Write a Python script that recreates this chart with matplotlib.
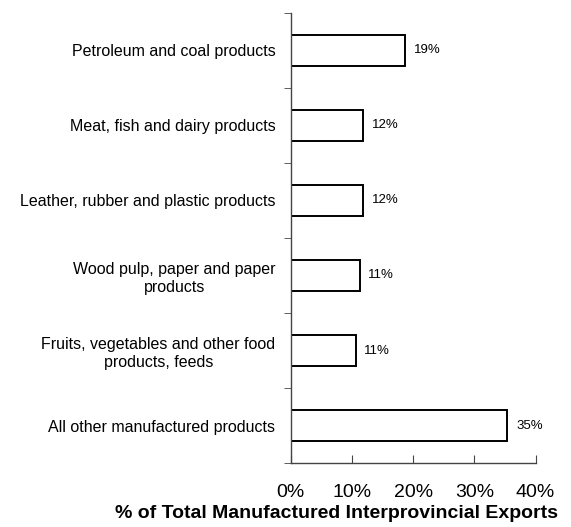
import matplotlib.pyplot as plt
import numpy as np

plt.rcParams['font.family'] = ['Liberation Sans', 'DejaVu Sans']

categories = [
    "Petroleum and coal products",
    "Meat, fish and dairy products",
    "Leather, rubber and plastic products",
    "Wood pulp, paper and paper\nproducts",
    "Fruits, vegetables and other food\nproducts, feeds",
    "All other manufactured products",
]
shares = [18.7, 11.8, 11.85, 11.3, 10.6, 35.4]
xticks = [0, 10, 20, 30, 40]

fig = plt.figure(figsize=(5.71, 5.27), dpi=100)
ax = fig.add_axes([0.509, 0.1214, 0.429, 0.854])

y = np.arange(len(categories))
ax.barh(y, shares, height=0.42, color="white", edgecolor="black", linewidth=1.4)
for yi, v in zip(y, shares):
    ax.text(v + 1.4, yi, f"{v:.0f}%", va="center", ha="left", fontsize=9.5)

ax.set_xlim(0, 40)
ax.set_ylim(len(categories) - 0.5, -0.5)

ax.set_yticks(y)
ax.set_yticklabels(categories, fontsize=11.5, multialignment="center",
                   linespacing=1.25)
ax.tick_params(axis="y", which="major", length=0, pad=11)
ax.set_yticks(np.arange(-0.5, len(categories)), minor=True)
ax.tick_params(axis="y", which="minor", length=5, direction="out", color="#444444")

ax.set_xticks(xticks)
ax.set_xticklabels([f"{t}%" for t in xticks], fontsize=14)
ax.tick_params(axis="x", length=6, direction="in", pad=15, color="#444444")

for s in ["top", "right"]:
    ax.spines[s].set_visible(False)
for s in ["left", "bottom"]:
    ax.spines[s].set_color("#444444")
    ax.spines[s].set_linewidth(1.0)

fig.text(0.59, 0.026, "% of Total Manufactured Interprovincial Exports",
         ha="center", va="center", fontsize=14, fontweight="bold")

fig.savefig("out.png", dpi=100)
